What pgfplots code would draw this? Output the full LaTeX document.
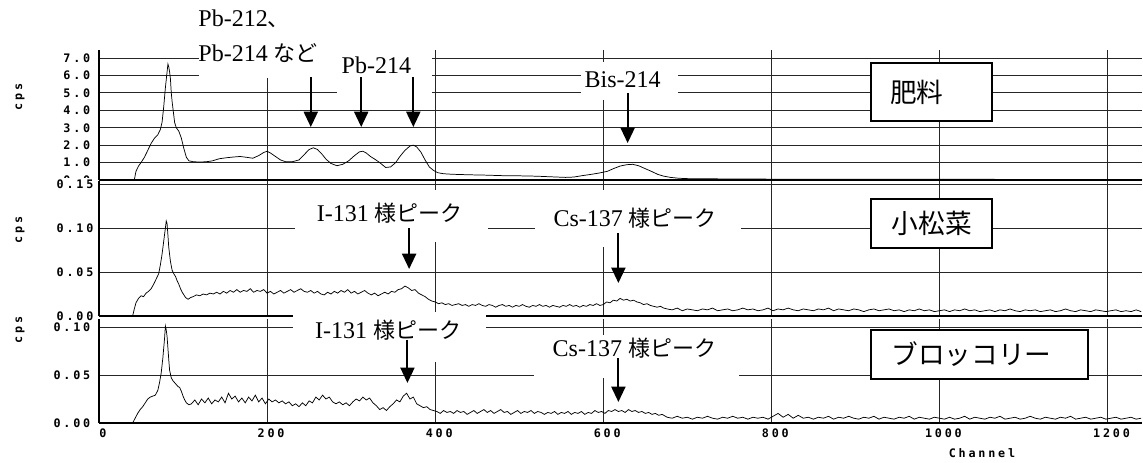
\documentclass[border=0pt]{standalone}
\usepackage{fontspec}
\setmainfont{Liberation Serif}
\newfontfamily\jp{Noto Sans CJK JP}
\newfontfamily\tickfont[LetterSpace=24]{DejaVu Sans Mono Bold}
\usepackage{pgfplots}
\pgfplotsset{compat=1.18}
\usepackage{pgfplotstable}
\usetikzlibrary{arrows.meta}

\newcommand\tf{\tickfont\fontsize{8.8}{10}\selectfont}
\newcommand\lab{\fontsize{18}{20}\selectfont}
\newcommand\jlab{\jp\fontsize{16.5}{20}\selectfont}
\newcommand\blab{\jp\fontsize{20}{22}\selectfont}

\tikzset{arr/.style={-{Triangle[width=10.5pt,length=11.5pt]}, line width=1.5pt}}
\pgfplotsset{
  panel/.style={
    scale only axis, width=782.25pt, xmin=0, xmax=1241, ymin=0,
    axis x line=bottom, axis y line=left,
    axis line style={line width=2.2pt,-},
    xtick={0,200,...,1200},
    grid=major, major grid style={line width=0.6pt, black!85},
    major tick length=0pt,
    clip=false,
    /pgf/number format/assume math mode=true,
    /pgf/number format/set thousands separator={},
    tick label style={font=\tf},
    yticklabel style={xshift=-3pt},
    ylabel={cps},
    ylabel style={font=\tf, anchor=center},
    anchor=south west,
  },
  spec/.style={black, line width=0.55pt, mark=none},
}

\pgfplotstableread{
x y
42 0
44 0.5
47 0.8
50 1.0
54 1.3
58 1.7
62 2.1
66 2.4
70 2.6
73 2.9
75 3.3
77 4.2
79 5.3
81 6.2
82 6.65
83 6.5
84 6.2
85 5.8
86 5.0
87 4.5
88 4.1
90 3.3
92 3.0
95 2.8
98 2.4
101 1.8
104 1.3
107 1.1
112 1.05
120 1.03
128 1.05
135 1.1
143 1.22
152 1.28
160 1.32
168 1.35
176 1.3
183 1.25
190 1.4
196 1.58
200 1.65
204 1.55
210 1.35
216 1.15
222 1.05
230 1.05
238 1.15
244 1.45
250 1.75
255 1.85
260 1.75
265 1.5
270 1.2
276 0.95
283 0.82
290 0.9
297 1.1
304 1.4
310 1.62
314 1.65
318 1.55
323 1.35
328 1.2
334 1.0
341 0.72
347 0.75
353 1.0
358 1.35
364 1.7
370 1.95
374 2.0
378 1.9
383 1.6
388 1.15
393 0.75
398 0.55
403 0.42
410 0.36
420 0.33
440 0.3
460 0.28
480 0.25
500 0.24
520 0.22
540 0.18
555 0.15
565 0.17
575 0.25
585 0.32
595 0.4
605 0.5
612 0.65
620 0.8
628 0.88
635 0.9
642 0.82
650 0.65
658 0.48
665 0.32
672 0.22
680 0.15
690 0.1
700 0.08
750 0.06
800 0.05
850 0.05
900 0.05
950 0.04
1000 0.04
1050 0.04
1100 0.03
1150 0.03
1200 0.03
1241 0.03
}\fert

\pgfplotstableread{
x y
40 0
42 0.008
44 0.015
47 0.020
50 0.023
53 0.022
56 0.026
59 0.028
62 0.031
65 0.036
68 0.042
71 0.048
73 0.058
75 0.070
77 0.085
79 0.100
80 0.108
81 0.105
82 0.092
83 0.078
85 0.062
87 0.052
89 0.048
91 0.045
93 0.040
95 0.036
97 0.031
99 0.027
101 0.024
103 0.021
106 0.019
109 0.021
112 0.022
116 0.024
120 0.023
124 0.025
128 0.024
132 0.026
136 0.025
140 0.027
144 0.025
148 0.028
152 0.026
156 0.029
160 0.027
164 0.030
168 0.027
172 0.029
176 0.028
180 0.031
184 0.027
188 0.029
192 0.028
196 0.030
200 0.026
204 0.028
208 0.025
212 0.027
216 0.029
220 0.026
224 0.028
228 0.030
232 0.027
236 0.029
240 0.031
244 0.028
248 0.027
252 0.029
256 0.026
260 0.028
264 0.025
268 0.024
272 0.027
276 0.025
280 0.028
284 0.026
288 0.029
292 0.027
296 0.030
300 0.026
304 0.028
308 0.025
312 0.027
316 0.029
320 0.026
324 0.024
328 0.026
332 0.023
336 0.025
340 0.027
344 0.025
348 0.028
352 0.027
356 0.030
360 0.031
364 0.034
368 0.032
372 0.029
376 0.030
380 0.026
384 0.024
388 0.022
392 0.019
396 0.017
400 0.016
404 0.014
408 0.015
412 0.013
416 0.014
420 0.012
424 0.013
428 0.014
432 0.012
436 0.013
440 0.011
444 0.013
448 0.012
452 0.014
456 0.012
460 0.011
464 0.013
468 0.012
472 0.010
476 0.012
480 0.013
484 0.011
488 0.012
492 0.010
496 0.012
500 0.011
504 0.013
508 0.011
512 0.010
516 0.012
520 0.011
524 0.013
528 0.011
532 0.012
536 0.010
540 0.012
544 0.011
548 0.010
552 0.012
556 0.011
560 0.013
564 0.011
568 0.012
572 0.010
576 0.012
580 0.011
584 0.013
588 0.012
592 0.014
596 0.012
600 0.013
604 0.016
608 0.015
612 0.018
616 0.017
620 0.020
624 0.018
628 0.019
632 0.017
636 0.018
640 0.016
644 0.015
648 0.013
652 0.014
656 0.012
660 0.011
664 0.010
668 0.011
672 0.009
676 0.008
682 0.007
688 0.009
694 0.006
700 0.008
706 0.007
712 0.006
718 0.008
724 0.007
730 0.009
736 0.006
742 0.007
748 0.008
754 0.006
760 0.007
766 0.009
772 0.007
778 0.008
784 0.006
790 0.007
796 0.009
802 0.006
808 0.008
814 0.007
820 0.009
826 0.007
832 0.006
838 0.008
844 0.007
850 0.006
856 0.008
862 0.007
868 0.009
874 0.006
880 0.008
886 0.007
892 0.006
898 0.008
904 0.007
910 0.005
916 0.007
922 0.008
928 0.006
934 0.007
940 0.008
946 0.006
952 0.007
958 0.005
964 0.007
970 0.006
976 0.008
982 0.006
988 0.007
994 0.005
1000 0.006
1006 0.007
1012 0.005
1018 0.007
1024 0.006
1030 0.008
1036 0.006
1042 0.007
1048 0.005
1054 0.006
1060 0.007
1066 0.005
1072 0.007
1078 0.006
1084 0.008
1090 0.006
1096 0.005
1102 0.007
1108 0.006
1114 0.007
1120 0.005
1126 0.006
1132 0.007
1138 0.005
1144 0.006
1150 0.008
1156 0.006
1162 0.005
1168 0.007
1174 0.006
1180 0.005
1186 0.007
1192 0.006
1198 0.005
1204 0.006
1210 0.007
1216 0.005
1222 0.006
1228 0.005
1234 0.007
1240 0.005
}\komatsuna

\pgfplotstableread{
x y
40 0
43 0.005
46 0.010
49 0.014
52 0.017
55 0.021
58 0.025
61 0.027
64 0.028
67 0.029
70 0.034
72 0.042
74 0.052
76 0.068
78 0.088
79 0.101
80 0.097
81 0.090
82 0.078
83 0.066
84 0.055
86 0.047
88 0.044
90 0.042
92 0.040
94 0.038
96 0.037
98 0.033
100 0.028
102 0.024
104 0.021
107 0.019
110 0.020
114 0.024
118 0.019
122 0.025
126 0.021
130 0.026
134 0.020
138 0.024
142 0.022
146 0.027
150 0.021
154 0.031
158 0.025
162 0.028
166 0.022
170 0.026
174 0.021
178 0.027
182 0.023
186 0.029
190 0.022
194 0.026
198 0.020
202 0.025
206 0.022
210 0.024
214 0.021
218 0.023
222 0.020
226 0.022
230 0.018
234 0.020
238 0.017
242 0.021
246 0.018
250 0.023
254 0.021
258 0.027
262 0.024
266 0.029
270 0.025
274 0.027
278 0.022
282 0.020
286 0.022
290 0.019
294 0.021
298 0.018
302 0.022
306 0.025
310 0.023
314 0.027
318 0.024
322 0.026
326 0.021
330 0.018
334 0.014
338 0.016
342 0.013
346 0.017
350 0.020
354 0.024
358 0.022
362 0.028
366 0.031
370 0.025
374 0.027
378 0.020
382 0.018
386 0.016
390 0.017
394 0.014
398 0.013
402 0.012
406 0.010
410 0.013
414 0.011
418 0.012
422 0.010
426 0.013
430 0.011
434 0.012
438 0.009
442 0.011
446 0.013
450 0.010
454 0.012
458 0.014
462 0.011
466 0.013
470 0.010
474 0.012
478 0.014
482 0.011
486 0.012
490 0.009
494 0.011
498 0.013
502 0.010
506 0.012
510 0.011
514 0.013
518 0.010
522 0.012
526 0.011
530 0.009
534 0.011
538 0.010
542 0.012
546 0.009
550 0.011
554 0.010
558 0.012
562 0.009
566 0.011
570 0.010
574 0.012
578 0.009
582 0.011
586 0.010
590 0.013
594 0.011
598 0.012
602 0.010
606 0.013
610 0.012
614 0.014
618 0.012
622 0.013
626 0.011
630 0.014
634 0.012
638 0.013
642 0.011
646 0.012
650 0.010
654 0.011
658 0.009
662 0.010
666 0.008
670 0.009
676 0.006
682 0.005
688 0.007
694 0.005
700 0.006
706 0.004
712 0.006
718 0.005
724 0.007
730 0.005
736 0.004
742 0.006
748 0.005
754 0.007
760 0.005
766 0.006
772 0.004
778 0.006
784 0.005
790 0.006
796 0.004
802 0.007
808 0.010
814 0.006
820 0.009
826 0.005
832 0.008
838 0.005
844 0.006
850 0.004
856 0.006
862 0.005
868 0.007
874 0.004
880 0.006
886 0.005
892 0.007
898 0.005
904 0.004
910 0.006
916 0.005
922 0.007
928 0.004
934 0.006
940 0.005
946 0.004
952 0.006
958 0.005
964 0.007
970 0.004
976 0.006
982 0.005
988 0.004
994 0.006
1000 0.005
1006 0.004
1012 0.006
1018 0.004
1024 0.005
1030 0.007
1036 0.004
1042 0.006
1048 0.005
1054 0.004
1060 0.006
1066 0.005
1072 0.007
1078 0.004
1084 0.005
1090 0.006
1096 0.004
1102 0.005
1108 0.007
1114 0.005
1120 0.004
1126 0.006
1132 0.005
1138 0.004
1144 0.006
1150 0.005
1156 0.007
1162 0.004
1168 0.005
1174 0.006
1180 0.004
1186 0.005
1192 0.006
1198 0.004
1204 0.005
1210 0.006
1216 0.004
1222 0.005
1228 0.006
1234 0.004
1240 0.005
}\broccoli

\begin{document}
\begin{tikzpicture}
\useasboundingbox (0,0) rectangle (857.25pt,-346.5pt);

% ---------- panel 1 : fertiliser ----------
\begin{axis}[panel, at={(74.25pt,-135pt)}, height=97.5pt, ymax=7.46,
  ytick={0,1,...,7}, xticklabels={},
  yticklabel style={/pgf/number format/fixed,/pgf/number format/fixed zerofill,/pgf/number format/precision=1},
  ylabel style={at={(axis description cs:-0.0757,0.638)}}]
\addplot[spec] table[x=x,y=y] {\fert};
\fill[white] (axis cs:119,5.85) rectangle (axis cs:396,7.46);
\fill[white] (axis cs:283,4.59) rectangle (axis cs:396,5.86);
\fill[white] (axis cs:573,4.6) rectangle (axis cs:689,6.8);
\node[anchor=west, inner sep=0pt] at (axis cs:118,9.24) {\lab Pb-212{\jlab 、}};
\node[anchor=west, inner sep=0pt] at (axis cs:118,7.27) {\lab Pb-214 {\jlab など}};
\node[inner sep=0pt] at (axis cs:330,6.6) {\lab Pb-214};
\node[inner sep=0pt] at (axis cs:623,5.74) {\lab Bis-214};
\draw[arr] (axis cs:252,5.91) -- (axis cs:252,3.04);
\draw[arr] (axis cs:312,5.91) -- (axis cs:312,3.04);
\draw[arr] (axis cs:374,5.91) -- (axis cs:374,3.04);
\draw[arr] (axis cs:629,4.99) -- (axis cs:629,2.12);
\node[draw, line width=1.5pt, fill=white, minimum width=90.75pt, minimum height=43.5pt] at (axis cs:991,5.05) {};
\node at (axis cs:973,5.05) {\blab 肥料};
\end{axis}

% ---------- panel 2 : komatsuna ----------
\begin{axis}[panel, at={(74.25pt,-237pt)}, height=101.25pt, ymax=0.1534,
  ytick={0,0.05,0.1,0.15}, xticklabels={},
  yticklabel style={fill=white, inner sep=1pt, /pgf/number format/fixed,/pgf/number format/fixed zerofill,/pgf/number format/precision=2},
  ylabel style={at={(axis description cs:-0.0757,0.637)}}]
\addplot[spec] table[x=x,y=y] {\komatsuna};
\fill[white] (axis cs:233,0.0841) rectangle (axis cs:463,0.1432);
\fill[white] (axis cs:519,0.078) rectangle (axis cs:764,0.1432);
\node[inner sep=0pt] at (axis cs:346,0.117) {\lab I-131 {\jlab 様ピーク}};
\node[inner sep=0pt] at (axis cs:638,0.111) {\lab Cs-137 {\jlab 様ピーク}};
\draw[arr] (axis cs:369,0.100) -- (axis cs:369,0.0534);
\draw[arr] (axis cs:618,0.0943) -- (axis cs:618,0.0375);
\node[draw, line width=1.5pt, fill=white, minimum width=90.75pt, minimum height=36.75pt] at (axis cs:991,0.105) {\blab 小松菜};
\end{axis}

% ---------- panel 3 : broccoli ----------
\begin{axis}[panel, at={(74.25pt,-317.25pt)}, height=78pt, ymax=0.1083,
  ytick={0,0.05,0.1},
  yticklabel style={/pgf/number format/fixed,/pgf/number format/fixed zerofill,/pgf/number format/precision=2},
  xticklabel style={yshift=-1pt, xshift=3pt},
  ylabel style={at={(axis description cs:-0.0757,0.894)}},
  xlabel={Channel},
  xlabel style={at={(axis description cs:0.8466,-0.288)}, anchor=center, font=\tf}]
\addplot[spec] table[x=x,y=y] {\broccoli};
\fill[white] (axis cs:231,0.0635) rectangle (axis cs:461,0.1155);
\fill[white] (axis cs:517,0.0469) rectangle (axis cs:762,0.0917);
\node[inner sep=0pt] at (axis cs:344,0.0969) {\lab I-131 {\jlab 様ピーク}};
\node[inner sep=0pt] at (axis cs:637,0.078) {\lab Cs-137 {\jlab 様ピーク}};
\draw[arr] (axis cs:367,0.0865) -- (axis cs:367,0.0417);
\draw[arr] (axis cs:618,0.0677) -- (axis cs:618,0.0219);
\node[draw, line width=1.5pt, fill=white, minimum width=162.75pt, minimum height=36.75pt] at (axis cs:1048,0.0714) {};
\node at (axis cs:1038,0.0714) {\blab ブロッコリー};
\end{axis}
\end{tikzpicture}
\end{document}
